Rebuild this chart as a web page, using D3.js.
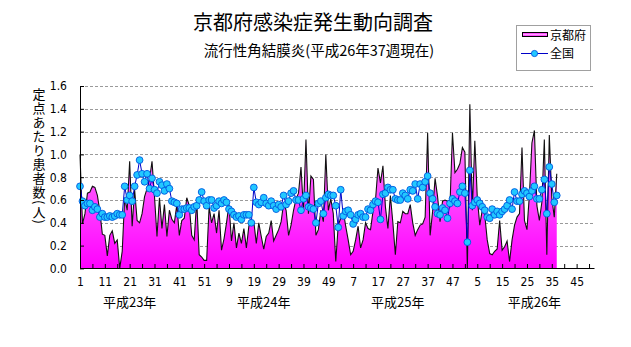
<!DOCTYPE html>
<html><head><meta charset="utf-8">
<script src="https://cdn.jsdelivr.net/npm/d3@7"></script>
<style>body{margin:0;background:#fff}svg{display:block}</style>
</head><body><svg id="c" width="631" height="347"></svg>
<script>
const years = ["平成23年","平成24年","平成25年","平成26年"];
const weeksPerYear = 52;
const xTickLabels = ["1","11","21","31","41","51","9","19","29","39","49","7","17","27","37","47","5","15","25","35","45"];
const yTicks = [0,0.2,0.4,0.6,0.8,1.0,1.2,1.4,1.6];
const yearLabelAt = [20, 74, 128, 183];
const yTitle = "定点あたり患者数(人)";

const kyoto2011 = [1.00,0.39,0.48,0.66,0.67,0.72,0.71,0.64,0.50,0.30,
0.29,0.11,0.29,0.33,0.22,0.25,0.00,0.15,0.62,0.51,
0.94,0.37,0.69,0.42,0.40,0.48,0.63,0.70,0.78,0.94,
0.63,0.28,0.62,0.35,0.56,0.28,0.51,0.43,0.40,0.56,
0.29,0.42,0.44,0.62,0.55,0.29,0.25,0.60,0.12,0.10,
0.07,0.07];
const kyoto2012 = [0.54,0.40,0.48,0.31,0.51,0.16,0.26,0.40,0.56,0.24,
0.40,0.18,0.31,0.22,0.35,0.18,0.37,0.42,0.41,0.22,
0.40,0.28,0.17,0.28,0.31,0.42,0.24,0.29,0.34,0.41,
0.57,0.51,0.29,0.38,0.51,0.61,0.66,0.89,0.51,1.13,
0.48,0.81,0.78,0.29,0.34,0.51,0.41,1.00,0.51,0.61,
0.48,0.06];
const kyoto2013 = [0.38,0.44,0.51,0.37,0.25,0.12,0.15,0.25,0.37,0.18,
0.25,0.40,0.35,0.34,0.50,0.60,0.88,0.75,0.90,0.54,
0.35,0.64,0.40,0.12,0.41,0.40,0.50,0.48,0.48,0.56,
0.40,0.29,0.34,0.38,0.39,0.45,1.19,0.29,0.50,0.79,
0.63,0.41,0.59,0.60,0.59,0.55,1.19,0.84,0.87,0.92,
1.06,1.02];
const kyoto2014 = [0.00,1.44,0.51,1.12,0.62,0.38,0.51,0.47,0.25,0.13,
0.12,0.15,0.17,0.42,0.16,0.19,0.24,0.06,0.25,0.38,
0.45,0.48,1.06,0.42,0.34,0.65,1.10,1.21,0.55,0.42,
0.58,1.13,0.12,1.17,0.62,0.45,0.83];

const national2011 = [0.72,0.59,0.55,0.57,0.57,0.51,0.54,0.52,0.45,0.48,
0.45,0.45,0.46,0.45,0.46,0.48,0.47,0.47,0.72,0.60,
0.64,0.59,0.72,0.82,0.95,0.83,0.76,0.83,0.70,0.79,
0.69,0.66,0.76,0.73,0.68,0.74,0.70,0.59,0.58,0.57,
0.47,0.52,0.52,0.53,0.53,0.51,0.54,0.55,0.60,0.67,
0.59,0.55];
const national2012 = [0.60,0.60,0.53,0.55,0.59,0.57,0.60,0.58,0.52,0.50,
0.47,0.45,0.46,0.43,0.47,0.47,0.47,0.40,0.71,0.58,
0.56,0.58,0.62,0.57,0.55,0.59,0.55,0.52,0.56,0.54,
0.64,0.56,0.59,0.66,0.68,0.60,0.60,0.51,0.61,0.64,
0.54,0.53,0.52,0.40,0.57,0.59,0.48,0.62,0.65,0.64,
0.64,0.55];
const national2013 = [0.36,0.69,0.46,0.50,0.51,0.47,0.39,0.43,0.47,0.48,
0.45,0.45,0.52,0.51,0.56,0.59,0.58,0.43,0.65,0.66,
0.71,0.69,0.69,0.61,0.60,0.60,0.66,0.64,0.61,0.69,
0.68,0.74,0.61,0.74,0.71,0.76,0.81,0.66,0.61,0.54,
0.48,0.47,0.53,0.51,0.44,0.57,0.61,0.59,0.57,0.67,
0.72,0.66];
const national2014 = [0.23,0.86,0.55,0.58,0.60,0.57,0.54,0.51,0.45,0.44,
0.52,0.47,0.50,0.47,0.50,0.52,0.55,0.60,0.52,0.67,
0.59,0.59,0.65,0.68,0.66,0.63,0.68,0.72,0.61,0.61,
0.69,0.78,0.48,0.89,0.74,0.58,0.64];

const categories = years.flatMap(yr => d3.range(1, weeksPerYear + 1).map(w => ({year: yr, week: w})));
const kyoto = [].concat(kyoto2011, kyoto2012, kyoto2013, kyoto2014);
const national = [].concat(national2011, national2012, national2013, national2014);

const svg = d3.select("#c");
const NUM = '"Liberation Sans Narrow","DejaVu Sans Condensed","Liberation Sans",sans-serif';
const JP = '"Noto Sans CJK JP","Noto Sans CJK SC",sans-serif';

const x = d3.scaleLinear().domain([0, categories.length - 1]).range([80, 594]);
const y = d3.scaleLinear().domain([0, 1.6]).range([268.4, 86]);

const defs = svg.append("defs");
const g1 = defs.append("linearGradient").attr("id","pinkArea").attr("gradientUnits","userSpaceOnUse")
  .attr("x1",0).attr("x2",0).attr("y1",y(1.6)).attr("y2",y(0));
g1.append("stop").attr("offset","0%").attr("stop-color","#ffb0ff");
g1.append("stop").attr("offset","100%").attr("stop-color","#ff00ff");
const g2 = defs.append("linearGradient").attr("id","pinkLeg").attr("x1",0).attr("x2",0).attr("y1",0).attr("y2",1);
g2.append("stop").attr("offset","0%").attr("stop-color","#ff00ff");
g2.append("stop").attr("offset","50%").attr("stop-color","#ffa0ff");
g2.append("stop").attr("offset","100%").attr("stop-color","#ff00ff");

// title
svg.append("text").attr("x",313).attr("y",30).attr("text-anchor","middle")
  .style("font-family",JP).style("font-size","20px").attr("fill","#000").text("京都府感染症発生動向調査");
svg.append("text").attr("x",319).attr("y",56).attr("text-anchor","middle")
  .style("font-family",JP).style("font-size","14.5px").attr("fill","#000").text("流行性角結膜炎(平成26年37週現在)");

// gridlines
svg.append("g").selectAll("line").data(yTicks.filter(t => t > 0)).join("line")
  .attr("x1", x(0)).attr("x2", x(categories.length - 1))
  .attr("y1", d => Math.round(y(d)) + 0.5).attr("y2", d => Math.round(y(d)) + 0.5)
  .attr("stroke","#9a9a9a").attr("stroke-dasharray","3,2");

// Kyoto area + line
svg.append("path").datum(kyoto)
  .attr("d", d3.area().x((d,i) => x(i)).y0(y(0)).y1(d => y(d)))
  .attr("fill","url(#pinkArea)");
svg.append("path").datum(kyoto)
  .attr("d", d3.line().x((d,i) => x(i)).y(d => y(d)))
  .attr("fill","none").attr("stroke","#111").attr("stroke-width",1.1);

// national line + markers
svg.append("path").datum(national)
  .attr("d", d3.line().x((d,i) => x(i)).y(d => y(d)))
  .attr("fill","none").attr("stroke","#0000c8").attr("stroke-width",1);
svg.append("g").selectAll("circle").data(national).join("circle")
  .attr("cx",(d,i) => x(i)).attr("cy", d => y(d)).attr("r",3.4)
  .attr("fill","#22c8ff").attr("stroke","#0058e0").attr("stroke-width",0.9);

// axes
const yAxis = svg.append("g").attr("transform","translate(80,0)")
  .call(d3.axisLeft(y).tickValues(yTicks).tickFormat(d3.format(".1f")).tickSizeInner(-4).tickSizeOuter(0).tickPadding(13));
const xAxis = svg.append("g").attr("transform","translate(0,268)")
  .call(d3.axisBottom(x).tickValues(d3.range(0, categories.length, 5))
    .tickFormat(i => i % 10 === 0 ? xTickLabels[i / 10] : "")
    .tickSizeInner(-4).tickSizeOuter(0).tickPadding(9));
[yAxis, xAxis].forEach(a => {
  a.selectAll("path,line").attr("stroke","#000");
  a.selectAll("text").style("font-family",NUM).style("font-size","12px").attr("fill","#000");
});

// year labels
svg.append("g").selectAll("text").data(years).join("text")
  .attr("x",(d,i) => x(yearLabelAt[i])).attr("y",307).attr("text-anchor","middle")
  .style("font-family",JP).style("font-size","13px").attr("fill","#000").text(d => d);

// y axis title (vertical)
svg.append("text").attr("x",39).attr("y",88)
  .style("writing-mode","vertical-rl").style("text-orientation","mixed")
  .style("letter-spacing","1px")
  .style("font-family",JP).style("font-size","13px").attr("fill","#000")
  .text(yTitle);

// legend
const lg = svg.append("g");
lg.append("rect").attr("x",516.5).attr("y",25.5).attr("width",74).attr("height",45)
  .attr("fill","#fff").attr("stroke","#a0a0a0");
lg.append("rect").attr("x",522.5).attr("y",32.5).attr("width",25).attr("height",4)
  .attr("fill","url(#pinkLeg)").attr("stroke","#000");
lg.append("text").attr("x",550).attr("y",40).style("font-family",JP).style("font-size","12px").text("京都府");
lg.append("line").attr("x1",521).attr("x2",548).attr("y1",53.5).attr("y2",53.5).attr("stroke","#0000c8");
lg.append("circle").attr("cx",534.5).attr("cy",53.5).attr("r",3.1).attr("fill","#22c8ff").attr("stroke","#0058e0").attr("stroke-width",0.9);
lg.append("text").attr("x",550).attr("y",58).style("font-family",JP).style("font-size","12px").text("全国");
</script></body></html>
